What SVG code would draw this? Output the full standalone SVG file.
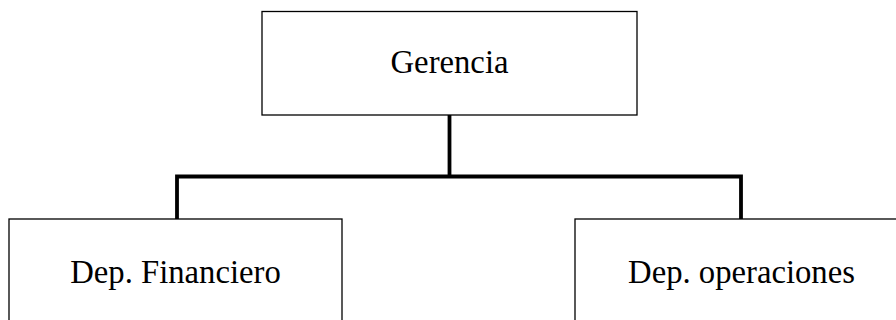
<svg xmlns="http://www.w3.org/2000/svg" width="896" height="320" viewBox="0 0 896 320">
  <style>
    .box { fill: #ffffff; stroke: #000000; stroke-width: 1.3; }
    .label { font-family: "Liberation Serif", "Times New Roman", serif; font-size: 32.7px; fill: #000000; text-anchor: middle; }
    .link { fill: none; stroke: #000000; stroke-width: 3.8; stroke-linejoin: miter; }
  </style>
  <rect x="0" y="0" width="896" height="320" fill="#ffffff"/>
  <g id="connectors">
    <path class="link" d="M449.5 115 V176.5"/>
    <path class="link" d="M177 219 V176.5 H741 V219"/>
  </g>
  <g id="gerencia">
    <rect class="box" x="262" y="11.5" width="375" height="103.5"/>
    <text class="label" x="449.5" y="73">Gerencia</text>
  </g>
  <g id="dep-financiero">
    <rect class="box" x="9" y="219" width="333" height="110"/>
    <text class="label" x="175.5" y="283">Dep. Financiero</text>
  </g>
  <g id="dep-operaciones">
    <rect class="box" x="575" y="219" width="330" height="110"/>
    <text class="label" x="741.5" y="283">Dep. operaciones</text>
  </g>
</svg>
